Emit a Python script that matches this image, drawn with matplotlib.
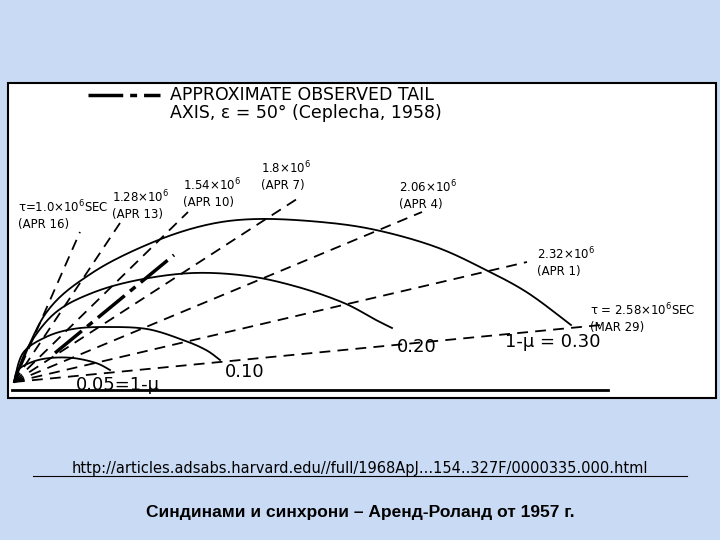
import matplotlib
matplotlib.use("Agg")
import matplotlib.pyplot as plt
import numpy as np

# syndyne curves (1-mu), picture coords
syn_labels = ["0.05=1-\u03bc", "0.10", "0.20", "1-\u03bc = 0.30"]
syn_x = [[14, 18, 32, 50, 73, 96, 110],
         [14, 23, 46, 73, 105, 147, 183, 206, 220],
         [14, 28, 55, 92, 138, 193, 248, 298, 344, 376, 392],
         [14, 46, 92, 151, 206, 257, 321, 376, 436, 486, 528, 571]]
syn_y = [[382, 370, 362, 358, 358, 363, 370],
         [382, 353, 337, 329, 327, 329, 340, 350, 360],
         [382, 347, 313, 293, 280, 273, 276, 287, 303, 320, 328],
         [382, 313, 273, 243, 225, 219, 222, 230, 247, 270, 293, 325]]
syn_lab_pos = [(76, 385), (225, 372), (397, 347), (505, 342)]

# synchrones
syc_labels = ["\u03c4=1.0\u00d710$^6$SEC\n(APR 16)", "1.28\u00d710$^6$\n(APR 13)",
              "1.54\u00d710$^6$\n(APR 10)", "1.8\u00d710$^6$\n(APR 7)",
              "2.06\u00d710$^6$\n(APR 4)", "2.32\u00d710$^6$\n(APR 1)",
              "\u03c4 = 2.58\u00d710$^6$SEC\n(MAR 29)"]
syc_end = [(80, 232), (120, 223), (188, 212), (300, 197), (422, 212), (527, 262), (601, 325)]
syc_lab = [(18, 215), (112, 205), (183, 193), (261, 176), (399, 195), (537, 262), (590, 318)]

tail_x = [55, 174]
tail_y = [353, 255]

def catmull(xs, ys, n=20):
    p = np.column_stack([xs, ys]).astype(float)
    p = np.vstack([p[0], p, p[-1]])
    out = []
    for i in range(1, len(p) - 2):
        p0, p1, p2, p3 = p[i-1], p[i], p[i+1], p[i+2]
        t = np.linspace(0, 1, n)[:, None]
        out.append(0.5 * ((2*p1) + (-p0+p2)*t + (2*p0-5*p1+4*p2-p3)*t**2 + (-p0+3*p1-3*p2+p3)*t**3))
    out = np.vstack(out)
    return out[:, 0], out[:, 1]

fig = plt.figure(figsize=(7.2, 5.4), dpi=100)
fig.patch.set_facecolor("#c9daf4")
ax = fig.add_axes([0, 0, 1, 1])
ax.set_xlim(0, 720); ax.set_ylim(540, 0); ax.axis("off")
ax.add_patch(plt.Rectangle((8, 83), 708, 315, fc="white", ec="black", lw=1.5))
ax.plot([12, 608], [390, 390], color="black", lw=2)

fam = "DejaVu Sans Condensed"
for xs, ys, lab, p in zip(syn_x, syn_y, syn_labels, syn_lab_pos):
    cx, cy = catmull(xs, ys)
    ax.plot(cx, cy, color="black", lw=1.3)
    ax.text(p[0], p[1], lab, fontsize=13, family=fam, va="center")
for e, lab, p in zip(syc_end, syc_labels, syc_lab):
    ax.plot([14, e[0]], [382, e[1]], color="black", lw=1.3, ls=(0, (6, 4)))
    ax.text(p[0], p[1], lab, fontsize=8.5, family=fam, va="center",
            ha="left", linespacing=1.25)
ax.plot(tail_x, tail_y, color="black", lw=2.5, ls=(0, (10, 2, 2, 2)))
ax.plot([88, 160], [95, 95], color="black", lw=2.5, ls=(0, (10, 2, 2, 2)))
ax.text(170, 95, "APPROXIMATE OBSERVED TAIL", fontsize=12.5, family=fam, va="center")
ax.text(170, 113, "AXIS, \u03b5 = 50\u00b0 (Ceplecha, 1958)", fontsize=12.5, family=fam, va="center")

ax.text(360, 468, "http://articles.adsabs.harvard.edu//full/1968ApJ...154..327F/0000335.000.html",
        fontsize=10.5, ha="center", va="center", color="black")
ax.plot([33, 687], [476, 476], color="black", lw=0.8)
ax.text(360, 512, "Синдинами и синхрони – Аренд-Роланд от 1957 г.", fontsize=12.5,
        ha="center", va="center", fontweight="bold", family="Liberation Sans")
fig.savefig("out.png", dpi=100, facecolor=fig.get_facecolor())
